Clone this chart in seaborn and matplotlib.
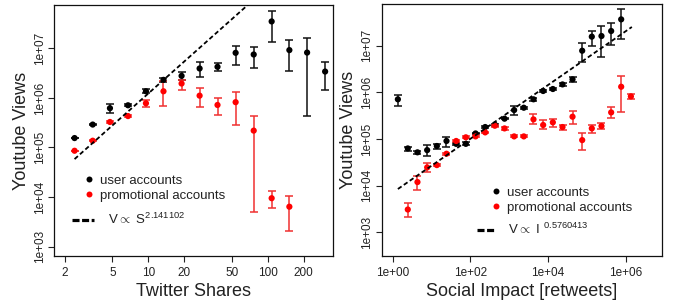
import numpy as np
import matplotlib
matplotlib.use("Agg")
import matplotlib.pyplot as plt
from matplotlib.lines import Line2D
import seaborn as sns

# ---- left panel: views vs twitter shares ----
shares = [2.41, 3.42, 4.77, 6.76, 9.55, 13.4, 19.0, 26.9, 38.0, 53.9, 76.4, 108, 152, 214, 303]
user_views = [1.55e5, 2.9e5, 6.2e5, 7.1e5, 1.36e6, 2.31e6, 2.78e6, 3.92e6, 4.23e6,
              8.1e6, 7.5e6, 3.48e7, 9.2e6, 8.2e6, 3.4e6]
user_lo = [1.55e5, 2.8e5, 5.0e5, 6.8e5, 1.26e6, 2.09e6, 2.34e6, 2.63e6, 3.47e6,
           4.68e6, 4.07e6, 1.35e7, 3.55e6, 4.3e5, 1.47e6]
user_hi = [1.55e5, 3.0e5, 7.6e5, 7.4e5, 1.48e6, 2.57e6, 3.31e6, 5.37e6, 5.13e6,
           1.10e7, 1.07e7, 5.6e7, 1.46e7, 1.58e7, 5.33e6]
promo_shares = shares[:13]
promo_views = [8.6e4, 1.37e5, 3.27e5, 4.3e5, 7.8e5, 1.36e6, 1.95e6, 1.11e6, 7.2e5,
               8.2e5, 2.19e5, 9.5e3, 6.4e3]
promo_lo = [8.6e4, 1.33e5, 3.1e5, 4.1e5, 6.6e5, 6.8e5, 1.47e6, 6.5e5, 4.5e5,
            2.85e5, 4.9e3, 6.0e3, 2.06e3]
promo_hi = [8.6e4, 1.41e5, 3.5e5, 4.5e5, 9.2e5, 2.17e6, 2.34e6, 1.58e6, 1.0e6,
            1.32e6, 4.3e5, 1.3e4, 1.06e4]
shares_exp = 2.141102
shares_logc = 3.948

# ---- right panel: views vs social impact ----
impact = [1.35, 2.43, 4.31, 7.66, 13.6, 24.1, 42.8, 75.9, 135, 239, 424, 752, 1330, 2360,
          4190, 7430, 13200, 23400, 42400, 75200, 133000, 236000, 419000, 759000]
imp_user = [7.1e5, 6.3e4, 5.2e4, 5.8e4, 7.1e4, 9.1e4, 7.9e4, 7.9e4, 1.32e5, 1.81e5, 2.03e5,
            2.73e5, 4.18e5, 4.69e5, 7.1e5, 1.07e6, 1.18e6, 1.48e6, 1.90e6, 7.8e6, 1.56e7,
            1.61e7, 2.06e7, 3.66e7]
imp_user_lo = [5.1e5, 5.6e4, 4.9e4, 4.3e4, 6.1e4, 6.9e4, 7.4e4, 7.3e4, 1.26e5, 1.72e5, 1.95e5,
               2.65e5, 3.2e5, 4.5e5, 6.6e5, 1.02e6, 1.13e6, 1.40e6, 1.7e6, 4.5e6, 9.8e6,
               5.8e6, 1.03e7, 1.39e7]
imp_user_hi = [8.7e5, 6.9e4, 5.5e4, 7.4e4, 7.7e4, 1.12e5, 8.4e4, 8.6e4, 1.38e5, 1.9e5, 2.1e5,
               2.8e5, 5.2e5, 4.9e5, 7.6e5, 1.12e6, 1.23e6, 1.55e6, 2.1e6, 1.12e7, 2.09e7,
               2.69e7, 3.09e7, 6.0e7]
imp_promo_x = impact[1:] + [1350000]
imp_promo = [3.1e3, 1.2e4, 2.47e4, 2.77e4, 4.85e4, 9.1e4, 1.09e5, 1.14e5, 1.39e5, 1.93e5,
             1.69e5, 1.14e5, 1.14e5, 2.64e5, 2.0e5, 2.28e5, 1.81e5, 3.01e5, 9.5e4, 1.69e5,
             1.9e5, 3.72e5, 1.32e6, 8.2e5]
imp_promo_lo = [2.17e3, 8.3e3, 1.93e4, 2.6e4, 4.6e4, 8.6e4, 1.04e5, 1.09e5, 1.33e5, 1.84e5,
                1.6e5, 1.09e5, 1.09e5, 2.09e5, 1.61e5, 1.84e5, 1.6e5, 2.06e5, 5.8e4, 1.37e5,
                1.61e5, 2.82e5, 3.85e5, 7.3e5]
imp_promo_hi = [4.2e3, 1.61e4, 3.0e4, 2.95e4, 5.1e4, 9.6e4, 1.14e5, 1.2e5, 1.45e5, 2.03e5,
                1.78e5, 1.2e5, 1.2e5, 3.39e5, 2.55e5, 2.73e5, 2.0e5, 3.98e5, 1.37e5, 2.03e5,
                2.17e5, 4.78e5, 2.28e6, 9.2e5]
impact_exp = 0.5760413
impact_logc = 3.855

sns.set_style("ticks")
plt.rcParams["font.family"] = ["Liberation Sans", "DejaVu Sans"]
plt.rcParams["mathtext.fontset"] = "custom"
plt.rcParams["mathtext.rm"] = "Liberation Sans"

fig = plt.figure(figsize=(6.77, 3.06), dpi=100)
ax1 = fig.add_axes([0.0798, 0.163, 0.412, 0.821])
ax2 = fig.add_axes([0.564, 0.163, 0.4136, 0.824])

RED = "#ff0000"
TXT = "#222222"


def draw_series(ax, x, y, lo, hi, color, ecolor):
    y = np.array(y)
    err = [y - np.array(lo), np.array(hi) - y]
    ax.errorbar(x, y, yerr=err, fmt="none", ecolor=ecolor, elinewidth=1.1,
                capsize=2.8, capthick=1.1, zorder=2)
    sns.scatterplot(x=x, y=y, ax=ax, color=color, s=20, edgecolor="none", zorder=3)


def fit_line(ax, xs, logc, expo):
    xs = np.array(xs)
    ys = 10 ** (logc + expo * np.log10(xs))
    sns.lineplot(x=xs, y=ys, ax=ax, color="black", lw=1.3, zorder=4)
    ax.lines[-1].set_dashes((2.5, 1.5))


for ax in (ax1, ax2):
    ax.set_xscale("log")
    ax.set_yscale("log")

draw_series(ax1, shares, user_views, user_lo, user_hi, "black", "#111111")
draw_series(ax1, promo_shares, promo_views, promo_lo, promo_hi, RED, "#f03030")
fit_line(ax1, np.geomspace(2.41, 120, 50), shares_logc, shares_exp)

draw_series(ax2, impact, imp_user, imp_user_lo, imp_user_hi, "black", "#111111")
draw_series(ax2, imp_promo_x, imp_promo, imp_promo_lo, imp_promo_hi, RED, "#f03030")
fit_line(ax2, np.geomspace(1.35, 1.43e6, 50), impact_logc, impact_exp)

ax1.set_xlim(10 ** 0.21, 10 ** 2.547)
ax1.set_ylim(10 ** 2.81, 10 ** 7.875)
ax2.set_xlim(10 ** -0.283, 10 ** 6.927)
ax2.set_ylim(10 ** 2.493, 10 ** 7.893)

yt = [1e3, 1e4, 1e5, 1e6, 1e7]
ylab = ["1e+03", "1e+04", "1e+05", "1e+06", "1e+07"]
ax1.set_xticks([2, 5, 10, 20, 50, 100, 200], ["2", "5", "10", "20", "50", "100", "200"])
ax2.set_xticks([1, 1e2, 1e4, 1e6], ["1e+00", "1e+02", "1e+04", "1e+06"])

for ax, xl in ((ax1, "Twitter Shares"), (ax2, "Social Impact [retweets]")):
    ax.set_yticks(yt, ylab)
    ax.minorticks_off()
    ax.tick_params(axis="both", direction="out", length=4, width=0.8, colors=TXT,
                   labelsize=8.5)
    ax.tick_params(axis="y", pad=2)
    for lab in ax.get_yticklabels():
        lab.set_rotation(90)
        lab.set_va("center")
    for sp in ax.spines.values():
        sp.set_visible(True)
        sp.set_color("#111111")
        sp.set_linewidth(0.9)
    ax.set_xlabel(xl, fontsize=13, color=TXT, labelpad=3)
    ax.set_ylabel("Youtube Views", fontsize=13, color=TXT, labelpad=3)


def legends(ax, pt_anchor, ln_anchor, fitlabel, hl):
    pts = [Line2D([], [], ls="none", marker="o", ms=4.3, color="black", mec="none"),
           Line2D([], [], ls="none", marker="o", ms=4.3, color=RED, mec="none")]
    leg1 = ax.legend(pts, ["user accounts", "promotional accounts"], loc="upper left",
                     bbox_to_anchor=pt_anchor, frameon=False, fontsize=9.5,
                     handlelength=0.8, handletextpad=0.4, borderpad=0, borderaxespad=0,
                     labelspacing=0.2, labelcolor=TXT)
    ax.add_artist(leg1)
    ln = [Line2D([], [], color="black", lw=2.3, dashes=(2.2, 0.8))]
    ax.legend(ln, [fitlabel], loc="upper left", bbox_to_anchor=ln_anchor, frameon=False,
              fontsize=9.5, handlelength=hl, handletextpad=1.0, borderpad=0,
              borderaxespad=0, labelcolor=TXT)


legends(ax1, (0.108, 0.325), (0.0645, 0.175),
        r"V$\propto$ S$^{\mathregular{2.141102}}$", 1.7)
legends(ax2, (0.39, 0.275), (0.339, 0.135),
        r"V$\propto$ I $^{\mathregular{0.5760413}}$", 1.35)

fig.savefig("out.png", dpi=100)
